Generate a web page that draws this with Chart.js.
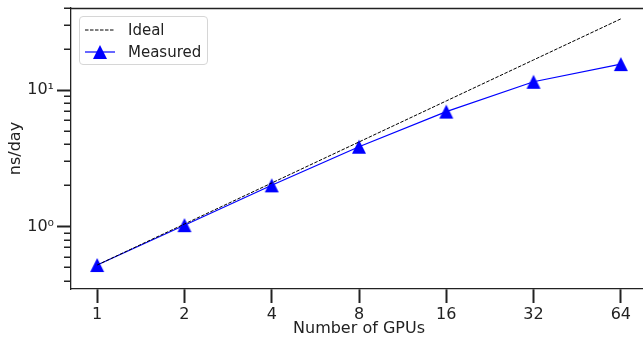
<!DOCTYPE html>
<html>
<head>
<meta charset="utf-8">
<script src="https://cdn.jsdelivr.net/npm/chart.js@4/dist/chart.umd.min.js"></script>
<style>
  html, body { margin: 0; padding: 0; background: #fff; overflow: hidden; }
  #wrap { position: relative; width: 643px; height: 338px; overflow: hidden; }
  canvas { position: absolute; left: 0; top: 0; }
  #legend {
    position: absolute; left: 79px; top: 16px; width: 127px; height: 47px;
    border: 1px solid #d6d6d6; border-radius: 4px; background: rgba(255,255,255,0.85);
    font-family: 'DejaVu Sans', sans-serif; font-size: 15px; color: #222;
  }
  .row { position: absolute; left: 0; height: 20px; display: flex; align-items: center; }
  .row svg { position: absolute; left: 5px; top: 0; }
  .row span { position: absolute; left: 48px; white-space: nowrap; line-height: 20px; top: 0; }
</style>
</head>
<body>
<div id="wrap">
  <canvas id="c" width="655" height="338"></canvas>
  <div id="legend">
    <div class="row" style="top:3px">
      <svg width="32" height="20"><line x1="0" y1="10" x2="30" y2="10" stroke="#000" stroke-width="1" stroke-dasharray="3.5,1.5"/></svg>
      <span>Ideal</span>
    </div>
    <div class="row" style="top:25px">
      <svg width="32" height="20"><line x1="0" y1="10" x2="30" y2="10" stroke="#0000ff" stroke-width="1.2"/><polygon points="15,3 8,17 22,17" fill="#0000ff"/></svg>
      <span>Measured</span>
    </div>
  </div>
</div>
<script>
const gpus = [1, 2, 4, 8, 16, 32, 64];
const idealNsDay = [0.52, 1.04, 2.08, 4.16, 8.32, 16.64, 33.28];
const measuredNsDay = [0.52, 1.02, 2.0, 3.84, 6.95, 11.5, 15.5];
const xTickValues = [1, 2, 4, 8, 16, 32, 64];
const yMajorTicks = [1, 10];
const yMajorLabels = ['10\u2070', '10\u00B9'];
const yMinorTicks = [0.4, 0.5, 0.6, 0.7, 0.8, 0.9, 2, 3, 4, 5, 6, 7, 8, 9, 20, 30, 40];

Chart.defaults.font.family = "'DejaVu Sans', sans-serif";
Chart.defaults.font.size = 16;
Chart.defaults.color = '#222';

// triangle marker (centred like matplotlib '^')
const tri = document.createElement('canvas');
tri.width = 16; tri.height = 16;
(function () {
  const t = tri.getContext('2d');
  t.fillStyle = '#0000ff';
  t.beginPath();
  t.moveTo(8, 1); t.lineTo(1, 15); t.lineTo(15, 15); t.closePath();
  t.fill();
})();

const frame = {
  id: 'frame',
  afterDraw(chart) {
    const { ctx, chartArea: a, scales: { y } } = chart;
    ctx.save();
    ctx.strokeStyle = '#222';
    ctx.lineWidth = 1.5;
    for (const v of yMinorTicks) {
      const py = Math.round(y.getPixelForValue(v)) + 0.25;
      if (py < a.top - 1 || py > a.bottom + 1) continue;
      ctx.beginPath();
      ctx.moveTo(a.left - 7, py);
      ctx.lineTo(a.left, py);
      ctx.stroke();
    }
    ctx.lineWidth = 1.3;
    ctx.beginPath();
    ctx.moveTo(a.left, Math.round(a.top) + 0.5);
    ctx.lineTo(a.right, Math.round(a.top) + 0.5);
    ctx.lineTo(a.right, a.bottom);
    ctx.stroke();
    ctx.restore();
  }
};

new Chart(document.getElementById('c'), {
  type: 'line',
  data: {
    datasets: [
      {
        label: 'Ideal',
        data: gpus.map((g, i) => ({ x: g, y: idealNsDay[i] })),
        borderColor: '#000',
        borderWidth: 1,
        borderDash: [3.5, 1.5],
        pointRadius: 0,
        fill: false,
        tension: 0
      },
      {
        label: 'Measured',
        data: gpus.map((g, i) => ({ x: g, y: measuredNsDay[i] })),
        borderColor: '#0000ff',
        borderWidth: 1.2,
        pointStyle: tri,
        pointRadius: 8,
        pointBackgroundColor: '#0000ff',
        pointBorderWidth: 0,
        fill: false,
        tension: 0
      }
    ]
  },
  options: {
    responsive: false,
    animation: false,
    devicePixelRatio: 1,
    layout: { padding: { top: 8, right: 3, left: 0, bottom: 0 } },
    plugins: { legend: { display: false }, tooltip: { enabled: false } },
    scales: {
      x: {
        type: 'logarithmic',
        bounds: 'data',
        min: Math.pow(2, -0.3),
        max: Math.pow(2, 6.3),
        afterBuildTicks: (s) => { s.ticks = xTickValues.map(v => ({ value: v })); },
        afterFit: (s) => { s.height = 49; s.paddingLeft = 0; s.paddingRight = 0; },
        ticks: { callback: (v) => String(v), padding: 2, maxRotation: 0, autoSkip: false, color: '#222' },
        grid: { drawOnChartArea: false, drawTicks: true, tickLength: 14, tickWidth: 2, tickColor: '#222' },
        border: { display: true, color: '#222', width: 1.3 },
        title: { display: true, text: 'Number of GPUs', padding: { top: 0, bottom: 0 }, color: '#222' }
      },
      y: {
        type: 'logarithmic',
        bounds: 'data',
        min: 0.347,
        max: 40,
        afterBuildTicks: (s) => { s.ticks = yMajorTicks.map(v => ({ value: v })); },
        afterFit: (s) => { s.width = 71; s.paddingTop = 0; s.paddingBottom = 0; },
        ticks: { callback: (v) => yMajorLabels[yMajorTicks.indexOf(v)], padding: 3, color: '#222' },
        grid: { drawOnChartArea: false, drawTicks: true, tickLength: 14, tickWidth: 2, tickColor: '#222' },
        border: { display: true, color: '#222', width: 1.3 },
        title: { display: true, text: 'ns/day', padding: { top: 6, bottom: 0 }, color: '#222' }
      }
    }
  },
  plugins: [frame]
});
</script>
</body>
</html>
